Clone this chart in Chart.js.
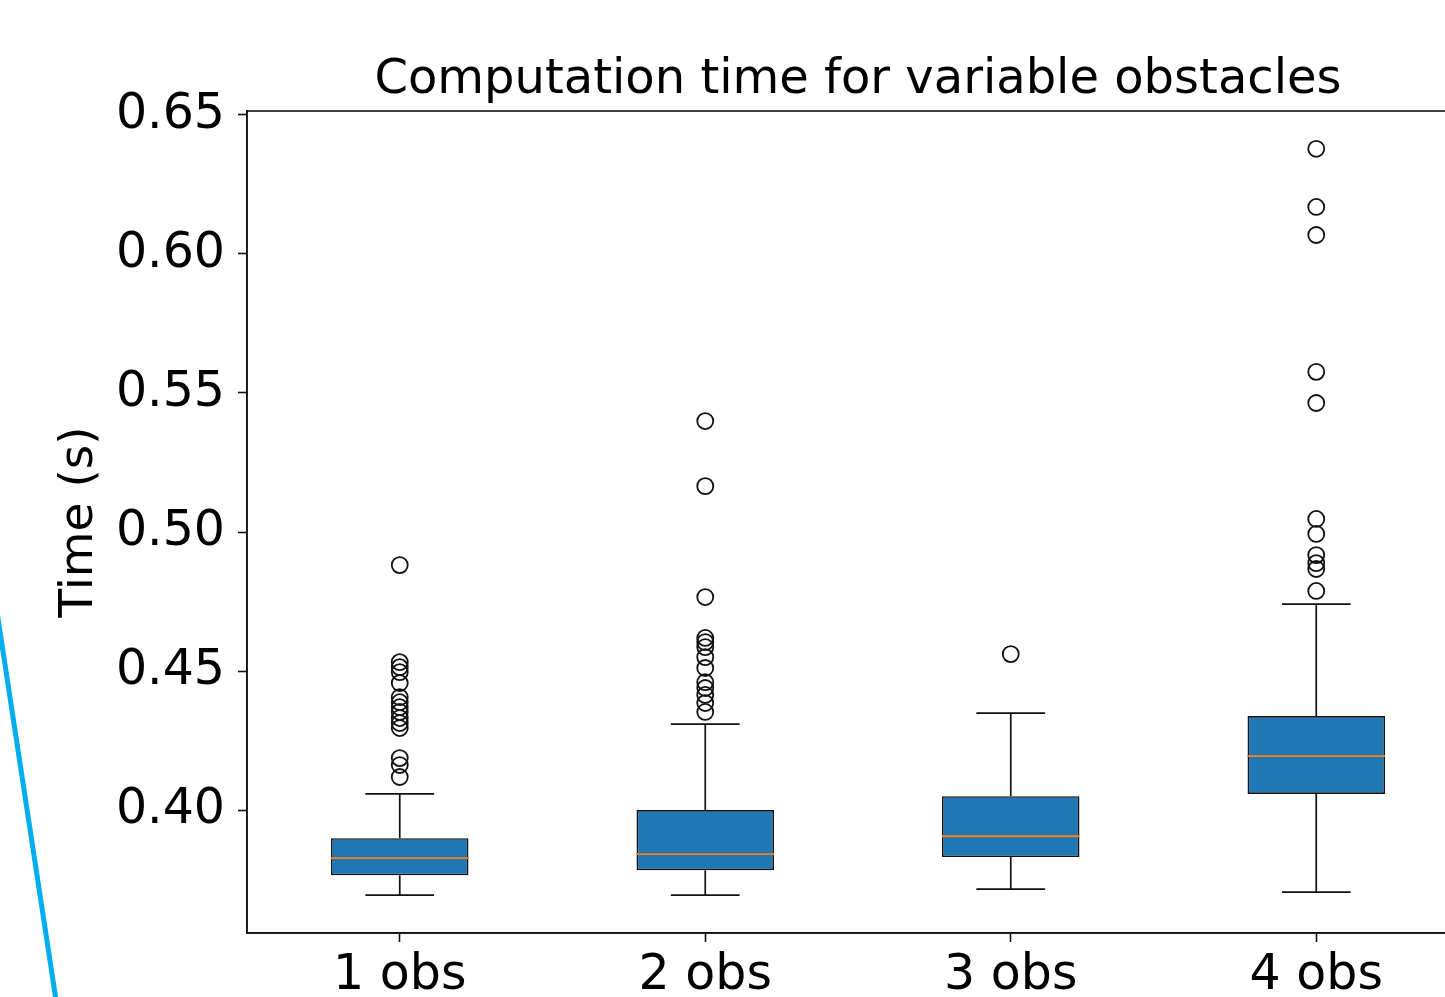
<!DOCTYPE html>
<html>
<head>
<meta charset="utf-8">
<script src="https://cdn.jsdelivr.net/npm/chart.js@4"></script>
<style>
html,body{margin:0;padding:0;overflow:hidden;background:#fff;width:1445px;height:997px;}
#wrap{position:absolute;left:0;top:0;width:1480px;height:997px;}
#deco{position:absolute;left:0;top:0;pointer-events:none;}
</style>
</head>
<body>
<div id="wrap"><canvas id="c"></canvas></div>
<svg id="deco" width="1445" height="997"><line x1="-3" y1="612" x2="56" y2="1000" stroke="#00aeef" stroke-width="5"/></svg>
<script>
// ---- data ----
const CATEGORIES = ['1 obs', '2 obs', '3 obs', '4 obs'];
const WHISKER_LOW = [0.3694, 0.3694, 0.3716, 0.3705];
const Q1 = [0.3766, 0.3784, 0.3831, 0.4058];
const MEDIAN = [0.3827, 0.3842, 0.3906, 0.4194];
const Q3 = [0.3899, 0.4000, 0.4050, 0.4338];
const WHISKER_HIGH = [0.4058, 0.4309, 0.4349, 0.4741];
const OUTLIERS_1 = [0.4881, 0.4532, 0.4514, 0.4496, 0.4457, 0.4406, 0.4388, 0.4370, 0.4353, 0.4331, 0.4313, 0.4295, 0.4187, 0.4162, 0.4119];
const OUTLIERS_2 = [0.5399, 0.5165, 0.4766, 0.4619, 0.4604, 0.4586, 0.4550, 0.4511, 0.4460, 0.4439, 0.4414, 0.4385, 0.4353];
const OUTLIERS_3 = [0.4561];
const OUTLIERS_4 = [0.6378, 0.6169, 0.6068, 0.5576, 0.5464, 0.5047, 0.4993, 0.4917, 0.4888, 0.4867, 0.4788];
const OUTLIERS = [OUTLIERS_1, OUTLIERS_2, OUTLIERS_3, OUTLIERS_4];
const Y_TICKS = [0.40, 0.45, 0.50, 0.55, 0.60, 0.65];
const TITLE = 'Computation time for variable obstacles';
const Y_LABEL = 'Time (s)';

// ---- style ----
const BOX_W = 0.45;
const CAP_W = 0.225;
const FONT = 'DejaVu Sans';
Chart.defaults.font.family = FONT;

const positions = CATEGORIES.map((_, i) => i + 1);
const datasets = [];

function seg(x1, y1, x2, y2, color, width) {
  datasets.push({
    type: 'scatter', showLine: true, data: [{x: x1, y: y1}, {x: x2, y: y2}],
    borderColor: color, borderWidth: width, pointRadius: 0, pointHoverRadius: 0,
    fill: false, order: 1, clip: false
  });
}

datasets.push({
  type: 'scatter',
  data: OUTLIERS.flatMap((arr, i) => arr.map(v => ({x: positions[i], y: v}))),
  pointRadius: 8, pointBorderWidth: 1.8, pointBorderColor: '#111',
  pointBackgroundColor: 'rgba(0,0,0,0)', borderColor: '#111', backgroundColor: 'rgba(0,0,0,0)',
  order: 0
});

positions.forEach((p, i) => {
  seg(p - BOX_W / 2, MEDIAN[i], p + BOX_W / 2, MEDIAN[i], '#ff7f0e', 1.8);
  seg(p, Q3[i], p, WHISKER_HIGH[i], '#111', 1.7);
  seg(p, Q1[i], p, WHISKER_LOW[i], '#111', 1.7);
  seg(p - CAP_W / 2, WHISKER_HIGH[i], p + CAP_W / 2, WHISKER_HIGH[i], '#111', 1.7);
  seg(p - CAP_W / 2, WHISKER_LOW[i], p + CAP_W / 2, WHISKER_LOW[i], '#111', 1.7);
});

datasets.push({
  type: 'bar',
  data: positions.map((p, i) => ({x: p, y: [Q1[i], Q3[i]]})),
  backgroundColor: '#1f77b4', borderColor: '#111', borderWidth: 1.6,
  borderSkipped: false, categoryPercentage: 1, barPercentage: BOX_W,
  order: 10
});

const framePlugin = {
  id: 'frame',
  afterDraw(chart) {
    const {ctx, chartArea: a} = chart;
    ctx.save();
    ctx.strokeStyle = '#111';
    ctx.lineWidth = 1.6;
    ctx.strokeRect(a.left, a.top, a.right - a.left, a.bottom - a.top);
    ctx.restore();
  }
};

new Chart(document.getElementById('c'), {
  type: 'bar',
  data: {datasets},
  options: {
    responsive: true,
    maintainAspectRatio: false,
    animation: false,
    layout: {padding: {left: 0, right: 11, top: 0, bottom: 0}},
    plugins: {
      legend: {display: false},
      tooltip: {enabled: false},
      title: {
        display: true, text: TITLE, fullSize: false, color: '#000',
        font: {family: FONT, size: 48, weight: 'normal', lineHeight: 1.2},
        padding: {top: 52, bottom: 1.4}
      }
    },
    scales: {
      x: {
        type: 'linear', min: 0.5, max: 4.5, offset: false,
        afterBuildTicks: s => { s.ticks = positions.map(v => ({value: v})); },
        afterFit: s => { s.height = 64; },
        ticks: {
          callback: v => CATEGORIES[Math.round(v) - 1] ?? '',
          font: {family: FONT, size: 49}, color: '#000', padding: 5,
          autoSkip: false, maxRotation: 0, minRotation: 0
        },
        grid: {offset: false, drawOnChartArea: false, drawTicks: true, tickLength: 9, tickColor: '#111', tickWidth: 1.6},
        border: {display: true, color: '#111', width: 1.6}
      },
      y: {
        type: 'linear', min: 0.3558, max: 0.6514,
        afterBuildTicks: s => { s.ticks = Y_TICKS.map(v => ({value: v})); },
        afterFit: s => { s.width = 247; },
        ticks: {
          callback: v => Number(v).toFixed(2),
          font: {family: FONT, size: 49}, color: '#000', padding: 13
        },
        grid: {drawOnChartArea: false, drawTicks: true, tickLength: 9, tickColor: '#111', tickWidth: 1.6},
        border: {display: true, color: '#111', width: 1.6},
        title: {
          display: true, text: Y_LABEL, color: '#000',
          font: {family: FONT, size: 47, lineHeight: 1.2},
          padding: {top: 52, bottom: 0}
        }
      }
    }
  },
  plugins: [framePlugin]
});
</script>
</body>
</html>
